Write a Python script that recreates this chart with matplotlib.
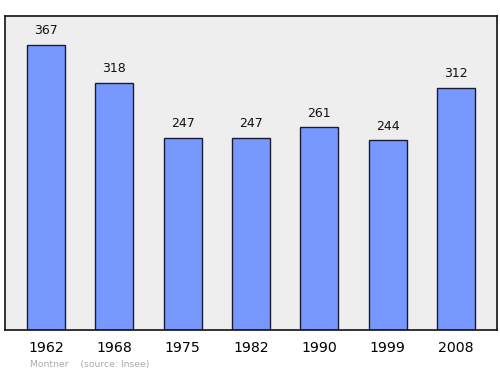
import matplotlib
matplotlib.use("Agg")
import matplotlib.pyplot as plt

years = ["1962", "1968", "1975", "1982", "1990", "1999", "2008"]
population = [367, 318, 247, 247, 261, 244, 312]

fig = plt.figure(figsize=(5, 3.74), dpi=100)
ax = fig.add_axes([5/500, 1 - 330/374, 492/500, 314/374])
ax.set_facecolor("#eeeeee")
x = list(range(len(years)))
ax.bar(x, population, width=0.56, color="#7799ff", edgecolor="#1a1a33", linewidth=1.0, zorder=2)
for xi, v in zip(x, population):
    ax.annotate(str(v), (xi, v), xytext=(0, 5.5), textcoords="offset points",
                ha="center", va="bottom", fontsize=9, color="#111111")
ax.set_xlim(-0.6, 6.6)
ax.set_ylim(0, 404)
ax.set_yticks([])
ax.set_xticks(x)
ax.set_xticklabels(years, fontsize=10.2)
ax.tick_params(axis="x", length=0, pad=8)
for s in ax.spines.values():
    s.set_linewidth(1.2)
    s.set_color("#111111")
fig.text(30/500, 1 - 365/374, "Montner    (source: Insee)", fontsize=6.7, color="#aaaaaa", va="center", ha="left")
fig.savefig("out.png", dpi=100)
